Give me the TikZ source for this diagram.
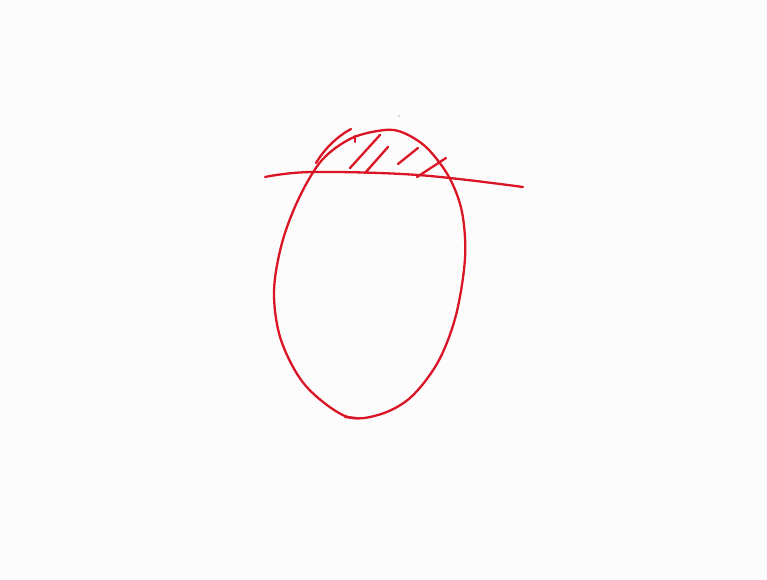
\documentclass[tikz,border=0pt]{standalone}
\begin{document}
\begin{tikzpicture}[x=1pt,y=-1pt,
  ink/.style={draw={rgb,255:red,218;green,22;blue,38}, line width=2.3pt, line cap=round, line join=round}]
\useasboundingbox[fill=white!99!black] (0,0) rectangle (767,579);
% oval
\draw[ink] plot[smooth cycle, tension=0.55] coordinates {
  (385,130) (352,138) (322,160) (299,198) (282,243) (274,292) (281,340)
  (305,385) (345,416) (378,415) (410,398) (438,362) (456,315) (465,258)
  (462,212) (449,177) (427,148) (404,133)};
% extra stroke top-left
\draw[ink] (316,163) .. controls (325,148) and (338,136) .. (351,129);
% horizontal line
\draw[ink] plot[smooth, tension=0.6] coordinates {(265,177) (312,172) (418,175) (523,187)};
% hatching
\draw[ink] (350,168) -- (380,135);
\draw[ink] (355,136) -- (355,142);
\draw[ink] (365,173) -- (388,147);
\draw[ink] (398,164) -- (418,148);
\draw[ink] (417,177) -- (446,158);
\draw[ink] (345,417) -- (356,418);
\fill[gray!60] (399,116) circle (0.8);
\end{tikzpicture}
\end{document}
